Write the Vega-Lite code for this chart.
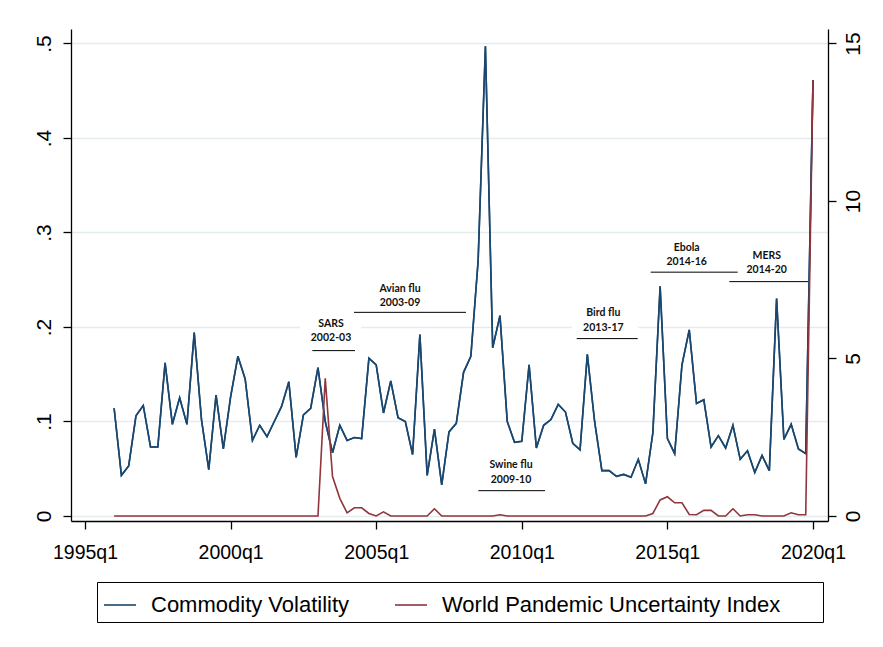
{
  "$schema": "https://vega.github.io/schema/vega-lite/v6.json",
  "width": 757,
  "height": 492,
  "autosize": {"type": "none"},
  "padding": {"left": 71, "top": 29, "right": 55, "bottom": 126},
  "background": "white",
  "config": {
    "view": {"stroke": null},
    "font": "Liberation Sans",
    "axis": {
      "domainColor": "#000000",
      "domainWidth": 1.3,
      "tickColor": "#000000",
      "tickWidth": 1.3,
      "tickSize": 8,
      "labelColor": "#000000",
      "labelFont": "Liberation Sans",
      "labelFontSize": 19.5,
      "title": null,
      "gridColor": "#e3ecef",
      "gridWidth": 1.3
    }
  },
  "datasets": {
    "series": [
      {"t": 1996.00, "cv": 0.114, "wpui": 0},
      {"t": 1996.25, "cv": 0.043, "wpui": 0},
      {"t": 1996.50, "cv": 0.053, "wpui": 0},
      {"t": 1996.75, "cv": 0.106, "wpui": 0},
      {"t": 1997.00, "cv": 0.117, "wpui": 0},
      {"t": 1997.25, "cv": 0.073, "wpui": 0},
      {"t": 1997.50, "cv": 0.073, "wpui": 0},
      {"t": 1997.75, "cv": 0.162, "wpui": 0},
      {"t": 1998.00, "cv": 0.097, "wpui": 0},
      {"t": 1998.25, "cv": 0.125, "wpui": 0},
      {"t": 1998.50, "cv": 0.097, "wpui": 0},
      {"t": 1998.75, "cv": 0.194, "wpui": 0},
      {"t": 1999.00, "cv": 0.102, "wpui": 0},
      {"t": 1999.25, "cv": 0.049, "wpui": 0},
      {"t": 1999.50, "cv": 0.128, "wpui": 0},
      {"t": 1999.75, "cv": 0.071, "wpui": 0},
      {"t": 2000.00, "cv": 0.126, "wpui": 0},
      {"t": 2000.25, "cv": 0.169, "wpui": 0},
      {"t": 2000.50, "cv": 0.145, "wpui": 0},
      {"t": 2000.75, "cv": 0.080, "wpui": 0},
      {"t": 2001.00, "cv": 0.096, "wpui": 0},
      {"t": 2001.25, "cv": 0.084, "wpui": 0},
      {"t": 2001.50, "cv": 0.100, "wpui": 0},
      {"t": 2001.75, "cv": 0.116, "wpui": 0},
      {"t": 2002.00, "cv": 0.142, "wpui": 0},
      {"t": 2002.25, "cv": 0.062, "wpui": 0},
      {"t": 2002.50, "cv": 0.107, "wpui": 0},
      {"t": 2002.75, "cv": 0.114, "wpui": 0},
      {"t": 2003.00, "cv": 0.157, "wpui": 0},
      {"t": 2003.25, "cv": 0.100, "wpui": 4.37},
      {"t": 2003.50, "cv": 0.067, "wpui": 1.25},
      {"t": 2003.75, "cv": 0.096, "wpui": 0.56},
      {"t": 2004.00, "cv": 0.080, "wpui": 0.10},
      {"t": 2004.25, "cv": 0.083, "wpui": 0.26},
      {"t": 2004.50, "cv": 0.082, "wpui": 0.26},
      {"t": 2004.75, "cv": 0.167, "wpui": 0.08},
      {"t": 2005.00, "cv": 0.160, "wpui": 0},
      {"t": 2005.25, "cv": 0.109, "wpui": 0.13},
      {"t": 2005.50, "cv": 0.143, "wpui": 0},
      {"t": 2005.75, "cv": 0.104, "wpui": 0},
      {"t": 2006.00, "cv": 0.100, "wpui": 0},
      {"t": 2006.25, "cv": 0.065, "wpui": 0},
      {"t": 2006.50, "cv": 0.192, "wpui": 0},
      {"t": 2006.75, "cv": 0.043, "wpui": 0},
      {"t": 2007.00, "cv": 0.092, "wpui": 0.23},
      {"t": 2007.25, "cv": 0.033, "wpui": 0},
      {"t": 2007.50, "cv": 0.089, "wpui": 0},
      {"t": 2007.75, "cv": 0.098, "wpui": 0},
      {"t": 2008.00, "cv": 0.152, "wpui": 0},
      {"t": 2008.25, "cv": 0.169, "wpui": 0},
      {"t": 2008.50, "cv": 0.270, "wpui": 0},
      {"t": 2008.75, "cv": 0.497, "wpui": 0},
      {"t": 2009.00, "cv": 0.178, "wpui": 0},
      {"t": 2009.25, "cv": 0.212, "wpui": 0.04},
      {"t": 2009.50, "cv": 0.100, "wpui": 0},
      {"t": 2009.75, "cv": 0.078, "wpui": 0},
      {"t": 2010.00, "cv": 0.079, "wpui": 0},
      {"t": 2010.25, "cv": 0.160, "wpui": 0},
      {"t": 2010.50, "cv": 0.072, "wpui": 0},
      {"t": 2010.75, "cv": 0.096, "wpui": 0},
      {"t": 2011.00, "cv": 0.102, "wpui": 0},
      {"t": 2011.25, "cv": 0.118, "wpui": 0},
      {"t": 2011.50, "cv": 0.110, "wpui": 0},
      {"t": 2011.75, "cv": 0.077, "wpui": 0},
      {"t": 2012.00, "cv": 0.070, "wpui": 0},
      {"t": 2012.25, "cv": 0.171, "wpui": 0},
      {"t": 2012.50, "cv": 0.100, "wpui": 0},
      {"t": 2012.75, "cv": 0.048, "wpui": 0},
      {"t": 2013.00, "cv": 0.048, "wpui": 0},
      {"t": 2013.25, "cv": 0.042, "wpui": 0},
      {"t": 2013.50, "cv": 0.044, "wpui": 0},
      {"t": 2013.75, "cv": 0.041, "wpui": 0},
      {"t": 2014.00, "cv": 0.060, "wpui": 0},
      {"t": 2014.25, "cv": 0.034, "wpui": 0},
      {"t": 2014.50, "cv": 0.088, "wpui": 0.08},
      {"t": 2014.75, "cv": 0.243, "wpui": 0.51},
      {"t": 2015.00, "cv": 0.082, "wpui": 0.61},
      {"t": 2015.25, "cv": 0.066, "wpui": 0.42},
      {"t": 2015.50, "cv": 0.160, "wpui": 0.42},
      {"t": 2015.75, "cv": 0.197, "wpui": 0.05},
      {"t": 2016.00, "cv": 0.119, "wpui": 0.04},
      {"t": 2016.25, "cv": 0.123, "wpui": 0.18},
      {"t": 2016.50, "cv": 0.073, "wpui": 0.18},
      {"t": 2016.75, "cv": 0.085, "wpui": 0},
      {"t": 2017.00, "cv": 0.072, "wpui": 0},
      {"t": 2017.25, "cv": 0.096, "wpui": 0.23},
      {"t": 2017.50, "cv": 0.060, "wpui": 0},
      {"t": 2017.75, "cv": 0.069, "wpui": 0.04},
      {"t": 2018.00, "cv": 0.046, "wpui": 0.04},
      {"t": 2018.25, "cv": 0.064, "wpui": 0},
      {"t": 2018.50, "cv": 0.048, "wpui": 0},
      {"t": 2018.75, "cv": 0.230, "wpui": 0},
      {"t": 2019.00, "cv": 0.081, "wpui": 0},
      {"t": 2019.25, "cv": 0.097, "wpui": 0.10},
      {"t": 2019.50, "cv": 0.071, "wpui": 0.04},
      {"t": 2019.75, "cv": 0.066, "wpui": 0.04},
      {"t": 2020.00, "cv": 0.461, "wpui": 13.84}
    ],
    "notes": [
      {"t": 2003.448, "v": 0.2032, "label": "SARS"},
      {"t": 2003.448, "v": 0.1880, "label": "2002-03"},
      {"t": 2005.817, "v": 0.2400, "label": "Avian flu"},
      {"t": 2005.817, "v": 0.2250, "label": "2003-09"},
      {"t": 2009.629, "v": 0.0540, "label": "Swine flu"},
      {"t": 2009.629, "v": 0.0380, "label": "2009-10"},
      {"t": 2012.800, "v": 0.2150, "label": "Bird flu"},
      {"t": 2012.800, "v": 0.1990, "label": "2013-17"},
      {"t": 2015.663, "v": 0.2840, "label": "Ebola"},
      {"t": 2015.663, "v": 0.2690, "label": "2014-16"},
      {"t": 2018.410, "v": 0.2755, "label": "MERS"},
      {"t": 2018.410, "v": 0.2600, "label": "2014-20"}
    ],
    "segs": [
      {"t": 2002.806, "t2": 2004.272, "v": 0.1750},
      {"t": 2004.237, "t2": 2008.084, "v": 0.2155},
      {"t": 2008.506, "t2": 2010.797, "v": 0.0268},
      {"t": 2011.885, "t2": 2013.980, "v": 0.1877},
      {"t": 2014.426, "t2": 2017.414, "v": 0.2580},
      {"t": 2017.126, "t2": 2019.839, "v": 0.2480}
    ],
    "boxes": [
      {"t": 2002.383, "t2": 2004.478, "v": 0.1810, "v2": 0.2148},
      {"t": 2011.713, "t2": 2014.000, "v": 0.1926, "v2": 0.2265}
    ]
  },
  "layer": [
    {
      "layer": [
        {
          "data": {"name": "series"},
          "mark": {"type": "line", "strokeWidth": 1.6, "interpolate": "linear"},
          "encoding": {
            "x": {
              "field": "t", "type": "quantitative",
              "scale": {"domain": [1994.519, 2020.515], "nice": false, "zero": false},
              "axis": {
                "values": [1995, 2000, 2005, 2010, 2015, 2020],
                "labelExpr": "format(datum.value, 'd') + 'q1'",
                "grid": false,
                "labelPadding": 14,
                "labelFlush": false
              }
            },
            "y": {
              "field": "cv", "type": "quantitative",
              "scale": {"domain": [-0.00529, 0.5153], "nice": false, "zero": false},
              "axis": {
                "orient": "left",
                "values": [0, 0.1, 0.2, 0.3, 0.4, 0.5],
                "labelExpr": "datum.value == 0 ? '0' : replace(format(datum.value, '.1f'), '0.', '.')",
                "labelAngle": -90,
                "labelAlign": "center",
                "labelBaseline": "bottom",
                "labelFontSize": 21,
                "labelPadding": 9,
                "grid": true
              }
            },
            "color": {
              "datum": "Commodity Volatility",
              "type": "nominal",
              "scale": {
                "domain": ["Commodity Volatility", "World Pandemic Uncertainty Index"],
                "range": ["#1a476f", "#90353b"]
              },
              "legend": {
                "title": null,
                "orient": "none",
                "legendX": 26,
                "legendY": 553,
                "direction": "horizontal",
                "columns": 2,
                "symbolType": "stroke",
                "symbolSize": 1024,
                "symbolStrokeWidth": 1.6,
                "labelFont": "Liberation Sans",
                "labelFontSize": 22,
                "labelColor": "#000000",
                "labelOffset": 14,
                "labelLimit": 600,
                "columnPadding": 41,
                "padding": 6,
                "strokeColor": "#000000",
                "labelExpr": "datum.label == 'World Pandemic Uncertainty Index' ? datum.label + '\u00a0\u00a0\u00a0\u00a0\u00a0\u00a0\u200b' : datum.label"
              }
            }
          }
        },
        {
          "data": {"name": "boxes"},
          "mark": {"type": "rect", "fill": "white", "stroke": null},
          "encoding": {
            "x": {"field": "t", "type": "quantitative"},
            "x2": {"field": "t2"},
            "y": {"field": "v", "type": "quantitative"},
            "y2": {"field": "v2"}
          }
        },
        {
          "data": {"name": "segs"},
          "mark": {"type": "rule", "color": "#000000", "strokeWidth": 1},
          "encoding": {
            "x": {"field": "t", "type": "quantitative"},
            "x2": {"field": "t2"},
            "y": {"field": "v", "type": "quantitative"}
          }
        },
        {
          "data": {"name": "notes"},
          "mark": {"type": "text", "font": "Lato", "fontWeight": "bold", "fontSize": 10.5, "color": "#111111", "baseline": "middle", "align": "center"},
          "encoding": {
            "x": {"field": "t", "type": "quantitative"},
            "y": {"field": "v", "type": "quantitative"},
            "text": {"field": "label"}
          }
        },
        {
          "data": {"name": "series"},
          "mark": {"type": "line", "strokeWidth": 1.6},
          "encoding": {
            "x": {"field": "t", "type": "quantitative"},
            "y": {"field": "cv", "type": "quantitative"},
            "color": {"datum": "Commodity Volatility", "type": "nominal"}
          }
        }
      ]
    },
    {
      "data": {"name": "series"},
      "mark": {"type": "line", "strokeWidth": 1.6},
      "encoding": {
        "x": {"field": "t", "type": "quantitative"},
        "y": {
          "field": "wpui", "type": "quantitative",
          "scale": {"domain": [-0.1587, 15.459], "nice": false, "zero": false},
          "axis": {
            "orient": "right",
            "values": [0, 5, 10, 15],
            "labelAngle": -90,
            "labelAlign": "center",
            "labelBaseline": "top",
            "labelFontSize": 21,
            "labelPadding": 6,
            "grid": false
          }
        },
        "color": {"datum": "World Pandemic Uncertainty Index", "type": "nominal"}
      }
    }
  ],
  "resolve": {"scale": {"y": "independent"}}
}
